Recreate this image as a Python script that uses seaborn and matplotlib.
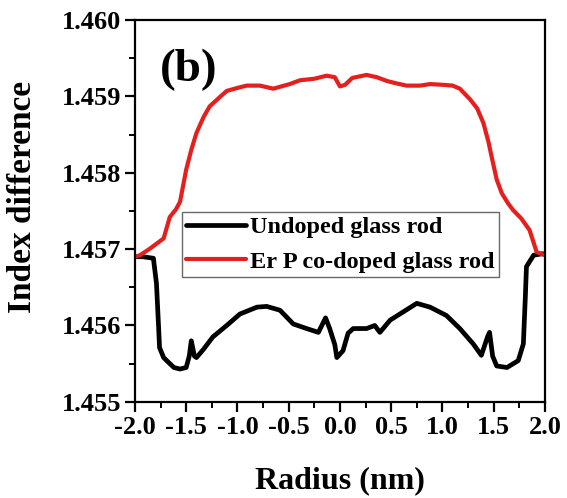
import matplotlib
matplotlib.use("Agg")
import matplotlib.pyplot as plt
import seaborn as sns
import pandas as pd
from matplotlib.ticker import MultipleLocator, FormatStrFormatter

# ---- data ----
undoped_x = [-1.98, -1.92, -1.82, -1.79, -1.77, -1.76, -1.72, -1.69, -1.62, -1.56,
             -1.50, -1.47, -1.45, -1.42, -1.40, -1.33, -1.24, -1.105, -0.976, -0.81,
             -0.715, -0.585, -0.455, -0.325, -0.21, -0.14, -0.10, -0.05, -0.03, 0.03,
             0.08, 0.13, 0.26, 0.34, 0.39, 0.49, 0.62, 0.75, 0.88, 1.04,
             1.17, 1.30, 1.38, 1.44, 1.46, 1.49, 1.53, 1.63, 1.74, 1.79,
             1.81, 1.82, 1.89, 1.98]
undoped_y = [1.45690, 1.45690, 1.45688, 1.45655, 1.45600, 1.45571, 1.45558, 1.45554, 1.45545, 1.45543,
             1.45545, 1.45560, 1.45580, 1.45560, 1.45558, 1.45569, 1.45585, 1.45600, 1.45615, 1.45624,
             1.45625, 1.45620, 1.45602, 1.45596, 1.45591, 1.45610, 1.45596, 1.45575, 1.45558, 1.45567,
             1.45590, 1.45596, 1.45596, 1.45600, 1.45591, 1.45607, 1.45618, 1.45629, 1.45624, 1.45613,
             1.45596, 1.45576, 1.45561, 1.45585, 1.45591, 1.45560, 1.45547, 1.45545, 1.45554, 1.45576,
             1.45640, 1.45677, 1.45692, 1.45694]

erp_x = [-2.0, -1.95, -1.85, -1.72, -1.66, -1.60, -1.56, -1.50, -1.45, -1.40,
         -1.33, -1.27, -1.18, -1.105, -1.0, -0.91, -0.78, -0.65, -0.49, -0.39,
         -0.25, -0.13, -0.05, 0.0, 0.05, 0.12, 0.26, 0.36, 0.46, 0.55,
         0.65, 0.78, 0.88, 1.01, 1.10, 1.17, 1.27, 1.34, 1.40, 1.45,
         1.48, 1.53, 1.58, 1.64, 1.69, 1.77, 1.85, 1.92, 2.0]
erp_y = [1.45690, 1.45692, 1.45701, 1.45714, 1.45742, 1.45752, 1.45762, 1.45804, 1.45830, 1.45852,
         1.45873, 1.45887, 1.45898, 1.45907, 1.45911, 1.45914, 1.45914, 1.45910, 1.45916, 1.45921,
         1.45923, 1.45927, 1.45925, 1.45913, 1.45915, 1.45924, 1.45928, 1.45925, 1.45920, 1.45917,
         1.45914, 1.45914, 1.45916, 1.45915, 1.45914, 1.45910, 1.45896, 1.45884, 1.45865, 1.45840,
         1.45821, 1.45791, 1.45773, 1.45760, 1.45751, 1.45740, 1.45725, 1.45696, 1.45692]

labels = ["Undoped glass rod", "Er P co-doped glass rod"]
x_label = "Radius (nm)"
y_label = "Index difference"
panel = "(b)"

# ---- style ----
sns.set_style("ticks")
plt.rcParams["font.family"] = ["Liberation Serif", "DejaVu Serif"]
plt.rcParams["font.weight"] = "bold"
plt.rcParams["axes.unicode_minus"] = False
plt.rcParams["text.color"] = "black"
plt.rcParams["axes.labelcolor"] = "black"
plt.rcParams["xtick.color"] = "black"
plt.rcParams["ytick.color"] = "black"

fig = plt.figure(figsize=(5.67, 4.98), dpi=100)
ax = fig.add_axes([0.238, 0.193, 0.723, 0.767])

df_u = pd.DataFrame({"x": undoped_x, "y": undoped_y})
df_e = pd.DataFrame({"x": erp_x, "y": erp_y})
sns.lineplot(data=df_u, x="x", y="y", ax=ax, color="black", lw=3.4,
             label=labels[0], estimator=None, sort=False)
sns.lineplot(data=df_e, x="x", y="y", ax=ax, color="#e3201e", lw=3.0,
             label=labels[1], estimator=None, sort=False)

ax.set_xlim(-2.0, 2.0)
ax.set_ylim(1.455, 1.460)
ax.xaxis.set_major_locator(MultipleLocator(0.5))
ax.xaxis.set_minor_locator(MultipleLocator(0.25))
ax.yaxis.set_major_locator(MultipleLocator(0.001))
ax.yaxis.set_minor_locator(MultipleLocator(0.0005))
ax.xaxis.set_major_formatter(FormatStrFormatter("%.1f"))
ax.yaxis.set_major_formatter(FormatStrFormatter("%.3f"))

for s in ax.spines.values():
    s.set_linewidth(1.6)
    s.set_color("black")
ax.tick_params(axis="both", which="major", direction="out", length=7, width=1.6,
               labelsize=19, pad=3, colors="black")
ax.tick_params(axis="both", which="minor", direction="out", length=4, width=1.4,
               colors="black")
for lab in ax.get_xticklabels() + ax.get_yticklabels():
    lab.set_fontweight("bold")

ax.set_xlabel(x_label, fontsize=23, fontweight="bold", color="black", labelpad=20)
ax.set_ylabel(y_label, fontsize=24, fontweight="bold", color="black")
ax.yaxis.set_label_coords(-0.237, 0.537)

ax.text(0.06, 0.925, panel, transform=ax.transAxes, fontsize=34, fontweight="bold",
        va="top", ha="left", color="black")

leg = ax.legend(loc="upper left", bbox_to_anchor=(0.115, 0.497), borderaxespad=0,
                fancybox=False, frameon=True, edgecolor="#444444",
                prop={"family": ["Liberation Serif"], "weight": "bold", "size": 17.5},
                handlelength=2.45, handletextpad=0.15, labelspacing=0.5,
                borderpad=0.18)
leg.get_frame().set_linewidth(1.0)
for t in leg.get_texts():
    t.set_color("black")

fig.savefig("out.png", dpi=100)
